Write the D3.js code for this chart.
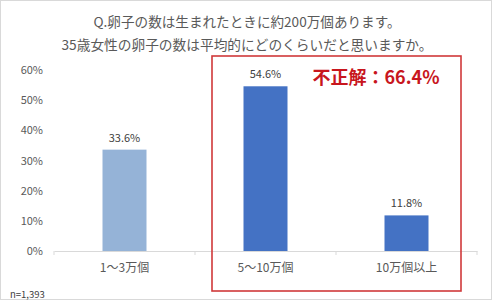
<!DOCTYPE html>
<html>
<head>
<meta charset="utf-8">
<script src="https://cdn.jsdelivr.net/npm/d3@7"></script>
<style>
  body { margin: 0; background: #fff; }
  svg { display: block; font-family: "Noto Sans CJK JP", "Noto Sans", sans-serif; }
</style>
</head>
<body>
<script>
// chart data
const categories = ["1～3万個", "5～10万個", "10万個以上"];
const values = [33.6, 54.6, 11.8];
const barColors = ["#95b3d7", "#4472c4", "#4472c4"];
const yTicks = [0, 10, 20, 30, 40, 50, 60];
const titleLines = ["Q.卵子の数は生まれたときに約200万個あります。", "35歳女性の卵子の数は平均的にどのくらいだと思いますか。"];
const callout = "不正解：66.4%";
const sampleNote = "n=1,393";

const width = 492, height = 302;
const margin = { top: 70, right: 15, bottom: 51, left: 54 };

const svg = d3.select("body").append("svg")
    .attr("width", width)
    .attr("height", height);

// outer frame
svg.append("rect")
    .attr("x", 0.5).attr("y", 0.5)
    .attr("width", width - 1).attr("height", height - 3)
    .attr("fill", "#fff")
    .attr("stroke", "#d9d9d9");

const x = d3.scaleBand()
    .domain(categories)
    .range([margin.left, width - margin.right])
    .paddingInner(0)
    .paddingOuter(0);

const y = d3.scaleLinear()
    .domain([0, 60])
    .range([height - margin.bottom, margin.top]);

const barW = 44;

// title (line widths)
const titleWidths = [307, 371];
svg.append("g")
    .selectAll("text")
    .data(titleLines)
    .join("text")
    .attr("x", 247)
    .attr("y", (d, i) => 27 + i * 23)
    .attr("text-anchor", "middle")
    .attr("font-size", 13.7)
    .attr("fill", "#595959")
    .attr("textLength", (d, i) => titleWidths[i])
    .attr("lengthAdjust", "spacingAndGlyphs")
    .text(d => d);

// y axis labels (no line)
const yAxis = svg.append("g")
    .attr("transform", `translate(${margin.left},0)`)
    .call(d3.axisLeft(y).tickValues(yTicks).tickFormat(d => d + "%").tickSize(0).tickPadding(11));
yAxis.select(".domain").remove();
yAxis.selectAll("text")
    .attr("font-family", "Noto Sans CJK JP, sans-serif")
    .attr("font-size", 11)
    .attr("fill", "#595959");

// x axis
const xAxis = svg.append("g")
    .attr("transform", `translate(0,${y(0)})`)
    .call(d3.axisBottom(x).tickSize(0).tickPadding(12));
xAxis.select(".domain").attr("stroke", "#d9d9d9");
xAxis.selectAll("text")
    .attr("font-family", "Noto Sans CJK JP, sans-serif")
    .attr("font-size", 12)
    .attr("fill", "#595959");
// band separators
xAxis.selectAll(".sep")
    .data([...categories.map(c => x(c)), x.range()[1]])
    .join("line")
    .attr("x1", d => d).attr("x2", d => d)
    .attr("y1", 0).attr("y2", 4)
    .attr("stroke", "#d9d9d9");

// bars
svg.append("g")
    .selectAll("rect")
    .data(values)
    .join("rect")
    .attr("x", (d, i) => x(categories[i]) + x.bandwidth() / 2 - barW / 2)
    .attr("y", d => y(d))
    .attr("width", barW)
    .attr("height", d => y(0) - y(d))
    .attr("fill", (d, i) => barColors[i]);

// value labels
svg.append("g")
    .selectAll("text")
    .data(values)
    .join("text")
    .attr("x", (d, i) => x(categories[i]) + x.bandwidth() / 2)
    .attr("y", d => y(d) - 8)
    .attr("text-anchor", "middle")
    .attr("font-size", 11)
    .attr("fill", "#404040")
    .text(d => d.toFixed(1) + "%");

// red highlight box around the wrong answers
svg.append("rect")
    .attr("x", 212)
    .attr("y", 56)
    .attr("width", 249)
    .attr("height", 235)
    .attr("fill", "none")
    .attr("stroke", "#d0393a")
    .attr("stroke-width", 1.6);

svg.append("text")
    .attr("x", 376)
    .attr("y", 84)
    .attr("text-anchor", "middle")
    .attr("font-size", 18)
    .attr("font-weight", "bold")
    .attr("fill", "#c8161d")
    .text(callout);

svg.append("text")
    .attr("x", 10)
    .attr("y", 298)
    .attr("font-size", 9.5)
    .attr("fill", "#404040")
    .text(sampleNote);
</script>
</body>
</html>
